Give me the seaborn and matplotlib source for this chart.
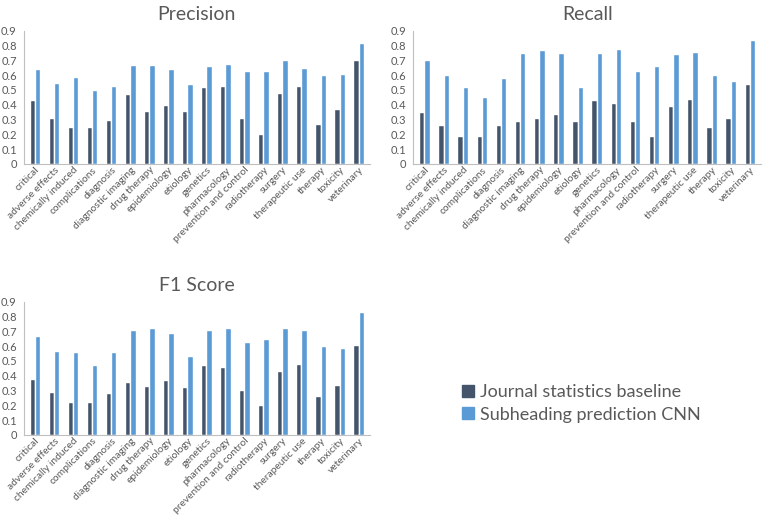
import pandas as pd
import matplotlib.pyplot as plt
import seaborn as sns

categories = ['critical', 'adverse effects', 'chemically induced', 'complications', 'diagnosis',
              'diagnostic imaging', 'drug therapy', 'epidemiology', 'etiology', 'genetics',
              'pharmacology', 'prevention and control', 'radiotherapy', 'surgery',
              'therapeutic use', 'therapy', 'toxicity', 'veterinary']
series = ['Journal statistics baseline', 'Subheading prediction CNN']

precision_base = [0.43, 0.31, 0.25, 0.25, 0.30, 0.47, 0.36, 0.40, 0.36, 0.52, 0.53, 0.31, 0.20, 0.48, 0.53, 0.27, 0.37, 0.70]
precision_cnn = [0.64, 0.55, 0.59, 0.50, 0.53, 0.67, 0.67, 0.64, 0.54, 0.665, 0.675, 0.63, 0.63, 0.70, 0.65, 0.60, 0.61, 0.82]
recall_base = [0.35, 0.26, 0.19, 0.19, 0.26, 0.29, 0.31, 0.34, 0.29, 0.43, 0.41, 0.29, 0.19, 0.39, 0.44, 0.25, 0.31, 0.54]
recall_cnn = [0.70, 0.60, 0.52, 0.45, 0.58, 0.75, 0.77, 0.75, 0.52, 0.75, 0.78, 0.63, 0.66, 0.74, 0.76, 0.60, 0.56, 0.84]
f1_base = [0.38, 0.29, 0.22, 0.22, 0.28, 0.36, 0.33, 0.37, 0.32, 0.47, 0.46, 0.30, 0.20, 0.43, 0.48, 0.26, 0.34, 0.61]
f1_cnn = [0.67, 0.57, 0.56, 0.47, 0.56, 0.71, 0.72, 0.69, 0.53, 0.71, 0.72, 0.63, 0.65, 0.72, 0.71, 0.60, 0.59, 0.83]

panels = [('Precision', precision_base, precision_cnn),
          ('Recall', recall_base, recall_cnn),
          ('F1 Score', f1_base, f1_cnn)]

colors = ['#44546A', '#5B9BD5']
text_col = '#595959'
axis_col = '#BFBFBF'

sns.set_style('white')
plt.rcParams['font.family'] = ['Lato', 'DejaVu Sans']

fig = plt.figure(figsize=(7.66, 5.22), dpi=100)
boxes = [[0.031, 0.686, 0.452, 0.255],
         [0.539, 0.686, 0.455, 0.255],
         [0.031, 0.167, 0.452, 0.255]]

for (title, base, cnn), box in zip(panels, boxes):
    ax = fig.add_axes(box)
    df = pd.DataFrame({
        'category': categories * 2,
        'value': base + cnn,
        'series': [series[0]] * len(categories) + [series[1]] * len(categories),
    })
    sns.barplot(data=df, x='category', y='value', hue='series', palette=colors,
                width=0.55, ax=ax, legend=False, saturation=1)
    ax.set_ylim(0, 0.9)
    ax.set_xlim(-0.6, len(categories) - 0.4)
    ax.set_yticks([i / 10 for i in range(10)])
    ax.set_yticklabels(['0'] + [f'{i / 10:.1f}' for i in range(1, 10)])
    ax.set_title(title, fontsize=14, color=text_col, pad=8)
    ax.set_xlabel('')
    ax.set_ylabel('')
    ax.tick_params(axis='y', labelsize=8, colors=text_col, length=3, width=0.8, color=axis_col, pad=2)
    ax.tick_params(axis='x', labelsize=7.4, colors=text_col, length=0, pad=1)
    ax.set_xticks(range(len(categories)))
    ax.set_xticklabels(categories, rotation=45, ha='right', rotation_mode='anchor')
    # small ticks between the groups
    ax.set_xticks([i - 0.5 for i in range(len(categories) + 1)], minor=True)
    ax.tick_params(axis='x', which='minor', length=3, width=0.8, color=axis_col, direction='out')
    for side in ['top', 'right']:
        ax.spines[side].set_visible(False)
    ax.spines['left'].set_color(axis_col)
    ax.spines['bottom'].set_color(axis_col)

handles = [plt.Line2D([], [], marker='s', linestyle='', markersize=8, color=c) for c in colors]
leg = fig.legend(handles, series, loc='upper left', bbox_to_anchor=(0.58, 0.295), frameon=False,
                 fontsize=13, handletextpad=0.3, labelspacing=0.35, handlelength=0.8)
for t in leg.get_texts():
    t.set_color(text_col)

fig.savefig('out.png', dpi=100)
